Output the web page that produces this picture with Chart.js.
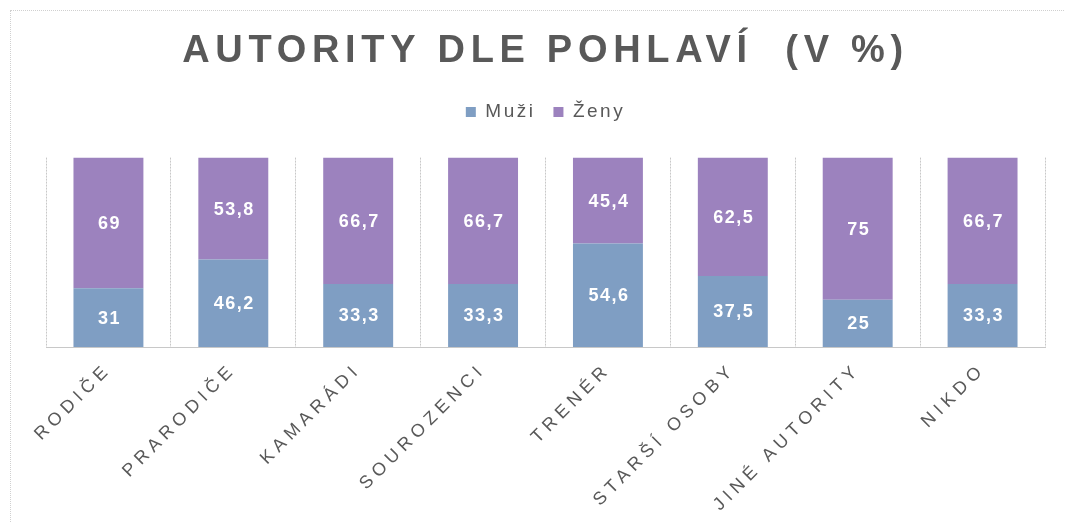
<!DOCTYPE html>
<html>
<head>
<meta charset="utf-8">
<script src="https://cdn.jsdelivr.net/npm/chart.js@4"></script>
<style>
  html, body { margin: 0; padding: 0; background: #fff; }
  #frame {
    position: absolute; left: 10px; top: 10px; width: 1055px; height: 513px;
    border-left: 1px dotted #d0d0d0; border-top: 1px dotted #d0d0d0;
  }
  #frame canvas { position: absolute; left: 0; top: 0; }
</style>
</head>
<body>
<div id="frame"><canvas id="chart" width="1054" height="512"></canvas></div>
<script>
const categories = ['RODIČE', 'PRARODIČE', 'KAMARÁDI', 'SOUROZENCI', 'TRENÉR', 'STARŠÍ OSOBY', 'JINÉ AUTORITY', 'NIKDO'];
const muzi = [31, 46.2, 33.3, 33.3, 54.6, 37.5, 25, 33.3];
const zeny = [69, 53.8, 66.7, 66.7, 45.4, 62.5, 75, 66.7];

const GREY = '#595959';

// white value labels in the middle of each segment
const valueLabels = {
    id: 'valueLabels',
    afterDatasetsDraw(chart) {
        const ctx = chart.ctx;
        ctx.save();
        ctx.letterSpacing = '1.5px';
        ctx.font = 'bold 18px "Liberation Sans", Arial, sans-serif';
        ctx.fillStyle = '#ffffff';
        ctx.textAlign = 'center';
        ctx.textBaseline = 'middle';
        chart.data.datasets.forEach((ds, i) => {
            chart.getDatasetMeta(i).data.forEach((bar, j) => {
                const txt = String(ds.data[j]).replace('.', ',');
                ctx.fillText(txt, bar.x + 1, (bar.y + bar.base) / 2 + 1);
            });
        });
        ctx.restore();
    }
};

// run fn with a given letter spacing on the chart context
function spaced(chart, px, fn) {
    chart.ctx.save();
    chart.ctx.letterSpacing = px;
    const r = fn();
    chart.ctx.restore();
    return r;
}

// letter spacing for title, legend and axis labels, extra gap under the legend
const spacing = {
    id: 'spacing',
    afterInit(chart) {
        const tb = chart.titleBlock;
        const drawTitle = tb.draw.bind(tb);
        tb.draw = () => spaced(chart, '5.7px', drawTitle);

        const lg = chart.legend;
        const fitLegend = lg.fit.bind(lg);
        const drawLegend = lg.draw.bind(lg);
        lg.fit = function () {
            spaced(chart, '2.5px', fitLegend);
            this.height += 26;
        };
        lg.draw = () => spaced(chart, '2.5px', drawLegend);
    },
    afterLayout(chart) {
        const s = chart.scales.x;
        if (s._spaced) return;
        s._spaced = true;
        const drawLabels = s.drawLabels.bind(s);
        s.drawLabels = (area) => spaced(chart, '5px', () => drawLabels(area));
    }
};

new Chart(document.getElementById('chart'), {
    type: 'bar',
    data: {
        labels: categories,
        datasets: [
            { label: 'Muži', data: muzi, backgroundColor: '#7f9ec3', barPercentage: 0.56, categoryPercentage: 1 },
            { label: 'Ženy', data: zeny, backgroundColor: '#9c82be', barPercentage: 0.56, categoryPercentage: 1 }
        ]
    },
    options: {
        responsive: false,
        animation: false,
        layout: { padding: { left: 35, right: 20, top: 0, bottom: 0 } },
        plugins: {
            title: {
                display: true,
                text: 'AUTORITY DLE POHLAVÍ  (V %)',
                color: GREY,
                font: { family: '"Liberation Sans", Arial, sans-serif', size: 38, weight: 'bold' },
                padding: { top: 18, bottom: 10 }
            },
            legend: {
                display: true,
                position: 'top',
                labels: {
                    color: GREY,
                    font: { family: '"Liberation Sans", Arial, sans-serif', size: 19 },
                    boxWidth: 10,
                    boxHeight: 10,
                    padding: 18
                }
            },
            tooltip: { enabled: false }
        },
        scales: {
            x: {
                stacked: true,
                grid: {
                    display: true,
                    offset: true,
                    color: '#c8c8c8',
                    drawTicks: false
                },
                border: { display: true, color: '#c8c8c8', dash: [2, 1] },
                ticks: {
                    color: GREY,
                    font: { family: '"Liberation Sans", Arial, sans-serif', size: 18 },
                    minRotation: 45,
                    maxRotation: 45,
                    padding: 12
                },
                afterFit(scale) { scale.height = 176; }
            },
            y: {
                stacked: true,
                display: false,
                min: 0,
                max: 100
            }
        }
    },
    plugins: [valueLabels, spacing]
});
</script>
</body>
</html>
